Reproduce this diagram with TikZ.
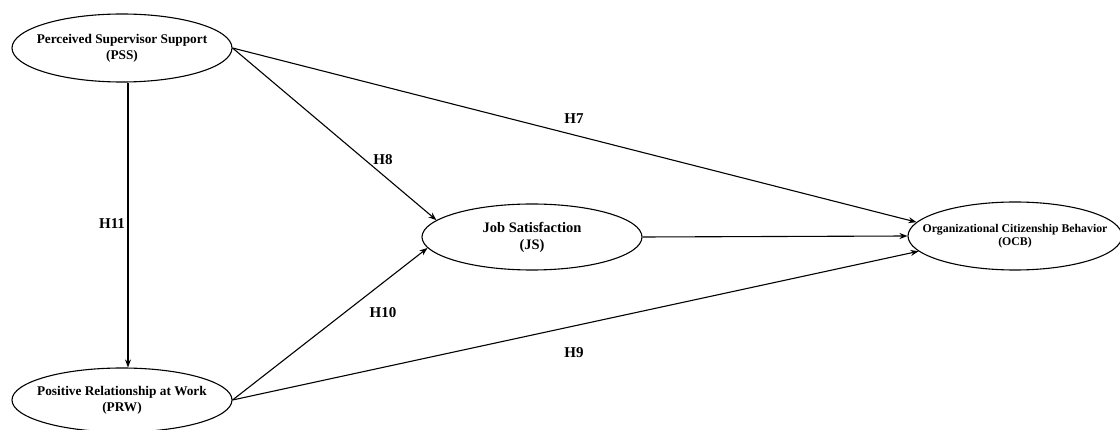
\documentclass[tikz,border=0pt]{standalone}
\usepackage{fontspec}
\setmainfont{Liberation Serif}
\usetikzlibrary{shapes.geometric,arrows.meta}
\tikzset{
  construct/.style={ellipse,draw,line width=1.1pt,inner sep=0pt},
  ctext/.style={align=center,inner sep=0pt},
  arr/.style={line width=1.1pt,-{Stealth[length=8pt,width=6pt]}},
  hyp/.style={font=\bfseries\fontsize{15}{18}\selectfont,inner sep=0pt}
}
\begin{document}
\begin{tikzpicture}[x=1pt,y=-1pt]
\useasboundingbox (0,0) rectangle (1120,430);
\node[construct,minimum width=220pt,minimum height=68pt,label={[ctext,font=\bfseries\fontsize{13.3}{16}\selectfont]center:{Perceived Supervisor Support\\(PSS)}}] (PSS) at (122,48) {};
\node[construct,minimum width=220pt,minimum height=64pt,label={[ctext,font=\bfseries\fontsize{13.3}{16}\selectfont]center:{Positive Relationship at Work\\(PRW)}}] (PRW) at (122,400) {};
\node[construct,minimum width=220pt,minimum height=66pt,label={[ctext,font=\bfseries\fontsize{14.5}{17}\selectfont]center:{Job Satisfaction\\(JS)}}] (JS) at (532,237) {};
\node[construct,minimum width=214pt,minimum height=68pt,label={[ctext,font=\bfseries\fontsize{11.8}{13}\selectfont]center:{Organizational Citizenship Behavior\\(OCB)}}] (OCB) at (1015,236) {};
\draw[arr] ([xshift=6pt]PSS.south) -- ([xshift=6pt]PRW.north);
\draw[arr] (PSS.east) -- (JS.170);
\draw[arr] (PSS.east) -- (OCB.172);
\draw[arr] (PRW.east) -- (JS.186);
\draw[arr] (PRW.east) -- (OCB.189);
\draw[arr] (JS.east) -- (OCB.west);
\node[hyp] (h11) at (112,224) {H11};
\node[hyp] (h8) at (383,160) {H8};
\node[hyp] (h7) at (574,119) {H7};
\node[hyp] (h10) at (383,313) {H10};
\node[hyp] (h9) at (574,353) {H9};
\end{tikzpicture}
\end{document}
